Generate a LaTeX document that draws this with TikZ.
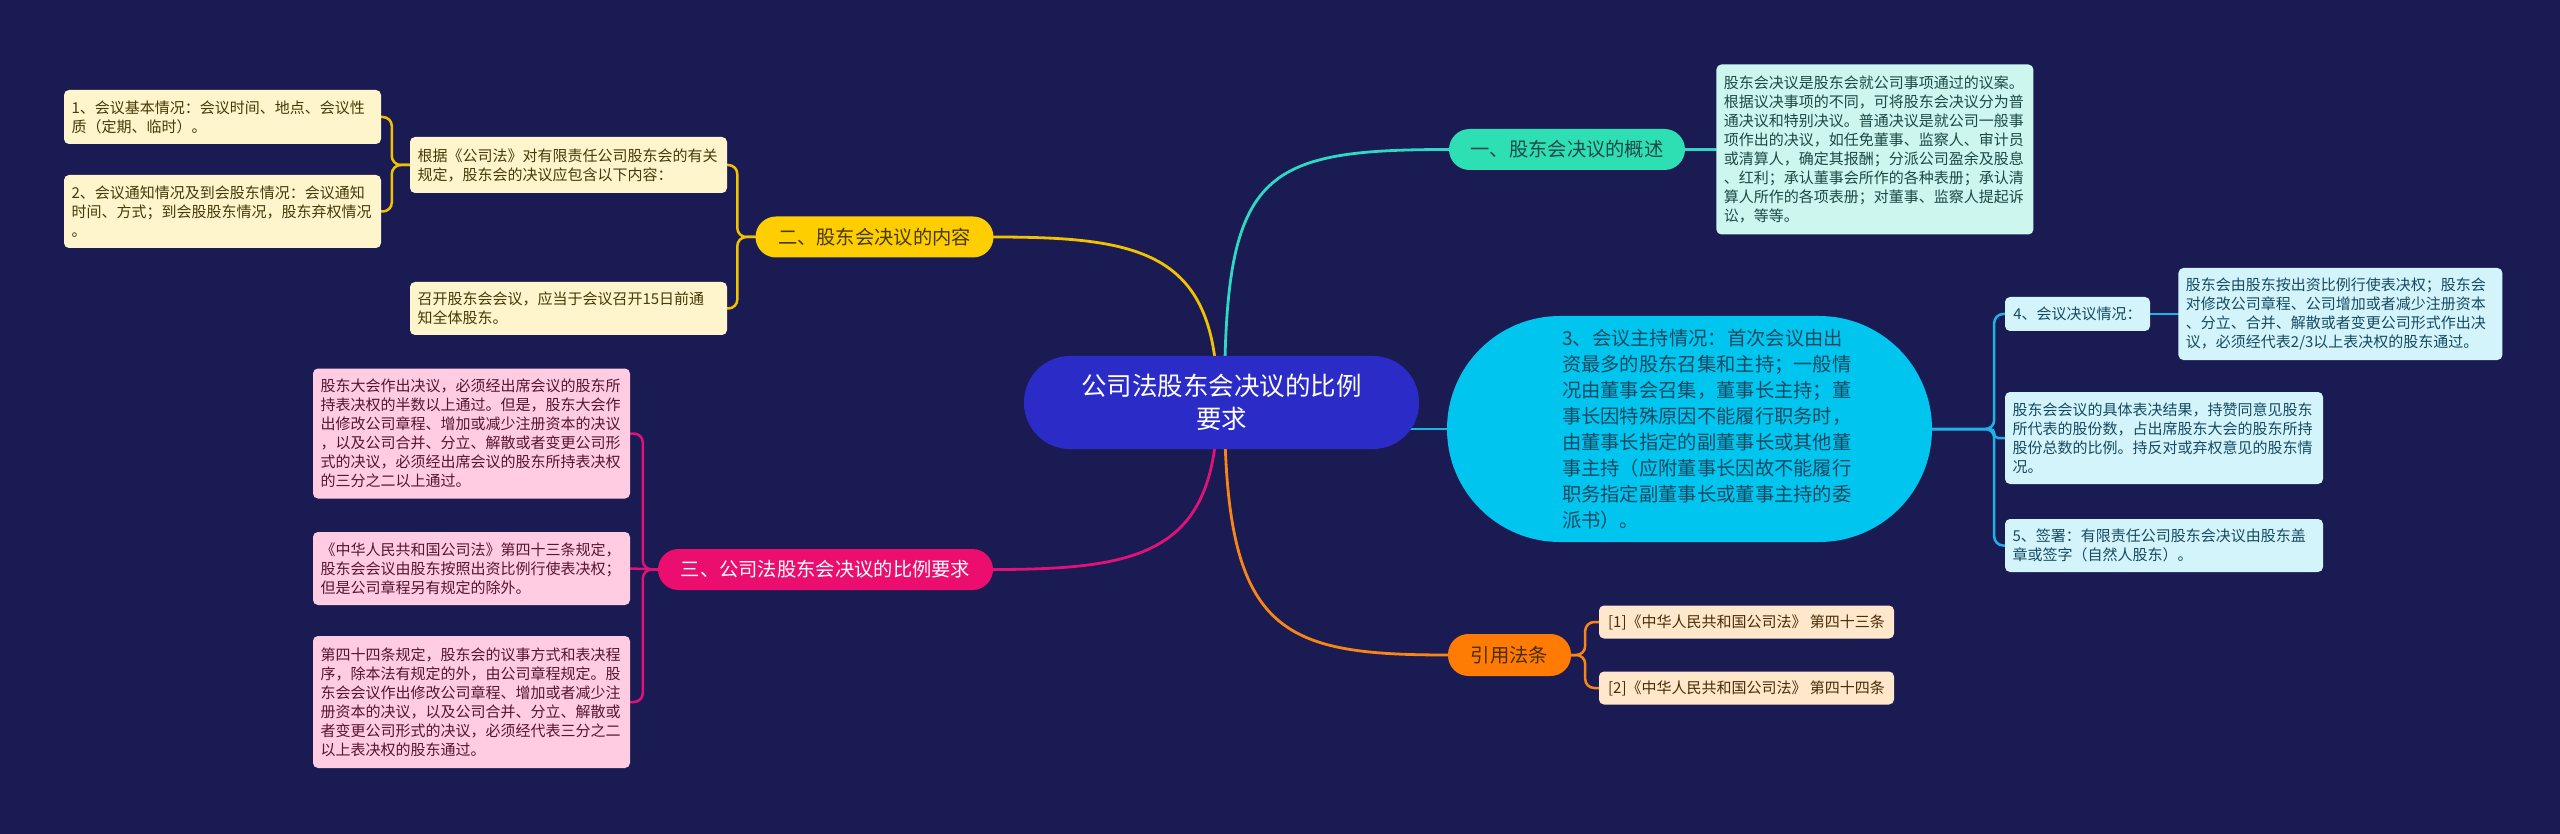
\documentclass[tikz,border=0pt]{standalone}
\usepackage{fontspec}
\setmainfont{Noto Sans CJK SC}
\usetikzlibrary{positioning, backgrounds}
\setlength{\parindent}{0pt}
\definecolor{mapbg}{HTML}{1B1B54}
\definecolor{rootblue}{HTML}{2B2BC8}
\definecolor{tealpill}{HTML}{2FDFB4}
\definecolor{tealcard}{HTML}{CCF6EE}
\definecolor{tealline}{HTML}{2ED8C4}
\definecolor{tealink}{HTML}{1C4A46}
\definecolor{goldpill}{HTML}{FFCE00}
\definecolor{goldcard}{HTML}{FFF5CC}
\definecolor{goldline}{HTML}{F2C200}
\definecolor{goldink}{HTML}{463A08}
\definecolor{skypill}{HTML}{00C6EF}
\definecolor{skycard}{HTML}{D3F4FB}
\definecolor{skyline}{HTML}{1DB3E6}
\definecolor{skyink}{HTML}{174A62}
\definecolor{rosepill}{HTML}{EC0E6E}
\definecolor{rosecard}{HTML}{FFCCE2}
\definecolor{roseline}{HTML}{E0127A}
\definecolor{roseink}{HTML}{561532}
\definecolor{amberpill}{HTML}{FF7B03}
\definecolor{ambercard}{HTML}{FFE7CC}
\definecolor{amberline}{HTML}{F98516}
\definecolor{amberink}{HTML}{4A2C06}

\begin{document}
\begin{tikzpicture}[
  x=1pt, y=-1pt,
  root/.style  = {rectangle, rounded corners=46pt, fill=rootblue, text=white, align=center,
                  minimum width=395pt, minimum height=93pt, font=\fontsize{25.5}{33}\selectfont},
  pill/.style  = {rectangle, rounded corners=20.5pt, minimum height=41pt, inner xsep=0pt,
                  font=\fontsize{19.3}{24}\selectfont},
  card/.style  = {rectangle, rounded corners=5pt, text width=302pt, align=left,
                  inner xsep=7.5pt, inner ysep=0pt, font=\fontsize{15}{19}\selectfont},
  tag/.style   = {rectangle, rounded corners=5pt, inner xsep=8pt, inner ysep=0pt,
                  minimum height=34pt, font=\fontsize{15}{19}\selectfont},
  branch/.style = {line width=2.8pt, line cap=round},
  link/.style  = {line width=2.5pt, line cap=round, rounded corners=9pt}
]
\useasboundingbox (0,0) rectangle (2560,834);

% centre
\node[root] (c) at (1221.5,402.5) {公司法股东会决议的比例\\要求};

% branch one
\node[pill, fill=tealpill, text=tealink, minimum width=236pt] (gai) at (1567,149.5) {一、股东会决议的概述};
\node[card, fill=tealcard, text=tealink, minimum height=170pt, right=31pt of gai] (gaiT)
  {股东会决议是股东会就公司事项通过的议案。\\根据议决事项的不同，可将股东会决议分为普\\通决议和特别决议。普通决议是就公司一般事\\项作出的决议，如任免董事、监察人、审计员\\或清算人，确定其报酬；分派公司盈余及股息\\、红利；承认董事会所作的各种表册；承认清\\算人所作的各项表册；对董事、监察人提起诉\\讼，等等。};

% branch two
\node[pill, fill=goldpill, text=goldink, minimum width=238pt] (nei) at (874.5,237) {二、股东会决议的内容};
\node[card, fill=goldcard, text=goldink, minimum height=56pt] (neiA) at (568.5,165)
  {根据《公司法》对有限责任公司股东会的有关\\规定，股东会的决议应包含以下内容：};
\node[card, fill=goldcard, text=goldink, minimum height=53pt] (neiB) at (568.5,308.5)
  {召开股东会会议，应当于会议召开15日前通\\知全体股东。};
\node[card, fill=goldcard, text=goldink, minimum height=54pt] (neiA1) at (222.5,117)
  {1、会议基本情况：会议时间、地点、会议性\\质（定期、临时）。};
\node[card, fill=goldcard, text=goldink, minimum height=73pt] (neiA2) at (222.5,211.5)
  {2、会议通知情况及到会股东情况：会议通知\\时间、方式；到会股股东情况，股东弃权情况\\。};

% branch three
\node[pill, fill=rosepill, text=white, minimum width=335pt] (bili) at (825.5,569.5) {三、公司法股东会决议的比例要求};
\node[card, fill=rosecard, text=roseink, minimum height=130pt] (biliA) at (471.5,433.5)
  {股东大会作出决议，必须经出席会议的股东所\\持表决权的半数以上通过。但是，股东大会作\\出修改公司章程、增加或减少注册资本的决议\\，以及公司合并、分立、解散或者变更公司形\\式的决议，必须经出席会议的股东所持表决权\\的三分之二以上通过。};
\node[card, fill=rosecard, text=roseink, minimum height=73pt] (biliB) at (471.5,568.5)
  {《中华人民共和国公司法》第四十三条规定，\\股东会会议由股东按照出资比例行使表决权；\\但是公司章程另有规定的除外。};
\node[card, fill=rosecard, text=roseink, minimum height=132pt] (biliC) at (471.5,702)
  {第四十四条规定，股东会的议事方式和表决程\\序，除本法有规定的外，由公司章程规定。股\\东会会议作出修改公司章程、增加或者减少注\\册资本的决议，以及公司合并、分立、解散或\\者变更公司形式的决议，必须经代表三分之二\\以上表决权的股东通过。};

% branch 3 (host)
\node[rectangle, rounded corners=113pt, fill=skypill, text=skyink, minimum width=485pt, minimum height=226pt,
      inner sep=0pt, font=\fontsize{19.3}{26}\selectfont] (zhu) at (1689.5,429)
  {\hspace*{37pt}\parbox{292pt}{\raggedright 3、会议主持情况：首次会议由出\\资最多的股东召集和主持；一般情\\况由董事会召集，董事长主持；董\\事长因特殊原因不能履行职务时，\\由董事长指定的副董事长或其他董\\事主持（应附董事长因故不能履行\\职务指定副董事长或董事主持的委\\派书）。}};
\node[tag, fill=skycard, text=skyink, minimum width=145pt] (jue) at (2077.5,314) {4、会议决议情况：};
\node[card, fill=skycard, text=skyink, text width=309pt, minimum height=92pt, right=28pt of jue] (jueT)
  {股东会由股东按出资比例行使表决权；股东会\\对修改公司章程、公司增加或者减少注册资本\\、分立、合并、解散或者变更公司形式作出决\\议，必须经代表2/3以上表决权的股东通过。};
\node[card, fill=skycard, text=skyink, text width=303pt, minimum height=92pt] (jieguo) at (2164,438)
  {股东会会议的具体表决结果，持赞同意见股东\\所代表的股份数，占出席股东大会的股东所持\\股份总数的比例。持反对或弃权意见的股东情\\况。};
\node[card, fill=skycard, text=skyink, text width=303pt, minimum height=53pt] (qian) at (2164,545.5)
  {5、签署：有限责任公司股东会决议由股东盖\\章或签字（自然人股东）。};

% cited articles
\node[pill, fill=amberpill, text=amberink, minimum width=123pt, minimum height=42pt] (fa) at (1509.5,655) {引用法条};
\node[tag, fill=ambercard, text=amberink, minimum width=295pt, minimum height=33pt] (fa1) at (1746.5,622)
  {[1]《中华人民共和国公司法》 第四十三条};
\node[tag, fill=ambercard, text=amberink, minimum width=295pt, minimum height=33pt] (fa2) at (1746.5,688)
  {[2]《中华人民共和国公司法》 第四十四条};

\begin{scope}[on background layer]
  \fill[mapbg] (0,0) rectangle (2560,834);
  % main branches
  \draw[branch, tealline] ([xshift=3pt]c.center) .. controls +(0,-230) and +(-190,0) .. (gai.west);
  \draw[branch, goldline] ([xshift=-4pt]c.center) .. controls +(0,-150) and +(150,0) .. (nei.east);
  \draw[branch, roseline] ([xshift=-4pt]c.center) .. controls +(0,150) and +(150,0) .. (bili.east);
  \draw[branch, amberline] ([xshift=3pt]c.center) .. controls +(0,230) and +(-170,0) .. (fa.west);
  \draw[branch, skyline] (c.center |- zhu.west) -- (zhu.west);
  % sub branches
  \draw[link, tealline] (gai.east) -- (gaiT.west);
  \draw[link, goldline] (nei.west) -- ++(-18,0) |- (neiA.east);
  \draw[link, goldline] (nei.west) -- ++(-18,0) |- (neiB.east);
  \draw[link, goldline] (neiA.west) -- ++(-18,0) |- (neiA1.east);
  \draw[link, goldline] (neiA.west) -- ++(-18,0) |- (neiA2.east);
  \draw[link, roseline] (bili.west) -- ++(-15,0) |- (biliA.east);
  \draw[link, roseline] (bili.west) -- (biliB.east);
  \draw[link, roseline] (bili.west) -- ++(-15,0) |- (biliC.east);
  \draw[link, skyline] (zhu.east) -- ++(62,0) |- (jue.west);
  \draw[link, skyline, rounded corners=4pt] (zhu.east) -- ++(62,0) |- (jieguo.west);
  \draw[link, skyline] (zhu.east) -- ++(62,0) |- (qian.west);
  \draw[link, skyline] (jue.east) -- (jueT.west);
  \draw[link, amberline] (fa.east) -- ++(14,0) |- (fa1.west);
  \draw[link, amberline] (fa.east) -- ++(14,0) |- (fa2.west);
\end{scope}
\end{tikzpicture}
\end{document}
